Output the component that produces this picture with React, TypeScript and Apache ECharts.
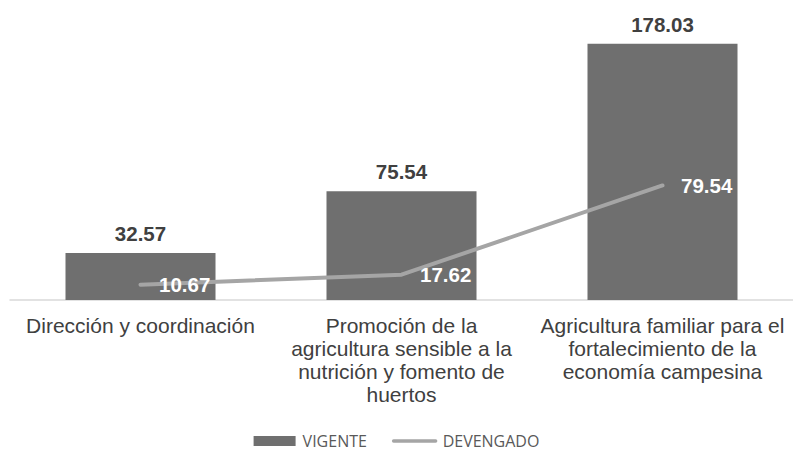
import React, { useEffect, useRef } from "react";
import * as echarts from "echarts";

const categories = [
  "Dirección y coordinación",
  "Promoción de la\nagricultura sensible a la\nnutrición y fomento de\nhuertos",
  "Agricultura familiar para el\nfortalecimiento de la\neconomía campesina",
];
const vigente = [32.57, 75.54, 178.03];
const devengado = [10.67, 17.62, 79.54];

export default function App() {
  const ref = useRef<HTMLDivElement>(null);
  useEffect(() => {
    const chart = echarts.init(ref.current!, null, { renderer: "svg" });
    chart.setOption({
      animation: false,
      backgroundColor: "#ffffff",
      textStyle: { fontFamily: "'Liberation Sans', Arial, sans-serif" },
      grid: { left: 10, right: -2, top: 12, bottom: 154, containLabel: false },
      legend: {
        top: 433,
        left: "center",
        padding: 0,
        itemWidth: 42,
        itemHeight: 10,
        itemGap: 25,
        textStyle: { fontFamily: "'Open Sans'", fontSize: 16, color: "#595959", padding: [0, 0, 0, 2] },
        data: [
          { name: "VIGENTE", icon: "rect" },
          { name: "DEVENGADO", itemStyle: { opacity: 0 }, lineStyle: { width: 3.5, color: "#a5a5a5" } },
        ],
      },
      xAxis: {
        type: "category",
        data: categories,
        axisLine: { lineStyle: { color: "#d9d9d9", width: 1.5 } },
        axisTick: { show: false },
        axisLabel: {
          interval: 0,
          fontSize: 21,
          lineHeight: 23,
          color: "#404040",
          margin: 14,
          align: "center",
        },
      },
      yAxis: {
        type: "value",
        min: 0,
        max: 200,
        show: false,
        splitLine: { show: false },
      },
      series: [
        {
          name: "VIGENTE",
          type: "bar",
          data: vigente,
          barWidth: 150,
          itemStyle: { color: "#6f6f6f" },
          label: {
            show: true,
            position: "top",
            distance: 9,
            fontSize: 20.5,
            fontWeight: "bold",
            color: "#404040",
            formatter: (p: any) => p.value.toFixed(2),
          },
        },
        {
          name: "DEVENGADO",
          type: "line",
          data: devengado,
          symbol: "circle",
          symbolSize: 1,
          showSymbol: true,
          itemStyle: { color: "#a5a5a5" },
          lineStyle: { color: "#a5a5a5", width: 4, cap: "round" },
          label: {
            show: true,
            position: "right",
            distance: 18,
            fontSize: 20.5,
            fontWeight: "bold",
            color: "#ffffff",
            formatter: (p: any) => p.value.toFixed(2),
          },
        },
      ],
    });
    return () => chart.dispose();
  }, []);
  return (
    <div
      ref={ref}
      style={{ position: "fixed", left: 0, top: 0, width: 793, height: 454 }}
    />
  );
}
